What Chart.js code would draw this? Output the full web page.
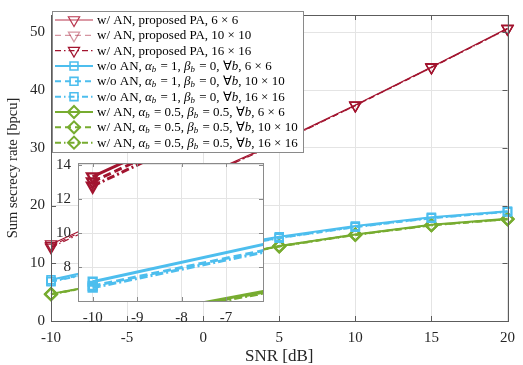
<!DOCTYPE html>
<html><head><meta charset="utf-8">
<script src="https://cdn.jsdelivr.net/npm/chart.js@4.4.0/dist/chart.umd.min.js"></script>
<style>
html,body{margin:0;padding:0;background:#fff;}
#wrap{position:relative;width:523px;height:365px;}
canvas{position:absolute;left:0;top:0;}
#inset{pointer-events:none;}
</style></head><body>
<div id="wrap"><canvas id="main" width="523" height="365"></canvas><canvas id="inset" width="523" height="365"></canvas></div>
<script>
// ---------------- data ----------------
const snr = [-10, -5, 0, 5, 10, 15, 20];
const anPA6   = [13.3, 19.3, 25.2, 31.1, 37.4, 44.0, 50.7];
const anPA10  = [13.0, 19.1, 25.0, 31.0, 37.3, 43.9, 50.6];
const anPA16  = [12.75, 18.9, 24.9, 30.9, 37.3, 43.9, 50.6];
const noAN6   = [7.15, 10.0, 12.4, 14.6, 16.45, 17.95, 19.0];
const noAN10  = [6.9, 9.6, 12.1, 14.4, 16.3, 17.85, 18.95];
const noAN16  = [6.8, 9.5, 12.0, 14.35, 16.25, 17.8, 18.9];
const anFix6  = [4.7, 7.15, 10.4, 13.0, 15.0, 16.65, 17.7];
const anFix10 = [4.65, 7.1, 10.35, 12.95, 14.95, 16.6, 17.65];
const anFix16 = [4.6, 7.05, 10.3, 12.9, 14.9, 16.55, 17.6];

const legendLabels = [
  'w/ AN, proposed PA, 6 × 6',
  'w/ AN, proposed PA, 10 × 10',
  'w/ AN, proposed PA, 16 × 16',
  'w/o AN, {α|b} = 1, {β|b} = 0, ∀{b}, 6 × 6',
  'w/o AN, {α|b} = 1, {β|b} = 0, ∀{b}, 10 × 10',
  'w/o AN, {α|b} = 1, {β|b} = 0, ∀{b}, 16 × 16',
  'w/ AN, {α|b} = 0.5, {β|b} = 0.5, ∀{b}, 6 × 6',
  'w/ AN, {α|b} = 0.5, {β|b} = 0.5, ∀{b}, 10 × 10',
  'w/ AN, {α|b} = 0.5, {β|b} = 0.5, ∀{b}, 16 × 16'
];
const xTitle = 'SNR [dB]';
const yTitle = 'Sum secrecy rate [bpcu]';
const mainXTicks = [-10, -5, 0, 5, 10, 15, 20];
const mainYTicks = [0, 10, 20, 30, 40, 50];
const insetXTicks = [-10, -9, -8, -7];
const insetYTicks = [8, 10, 12, 14];

// ---------------- styles ----------------
const RED = '#A2142F', BLUE = '#4DBEEE', GREEN = '#77AC30';
const FONT = '"Liberation Serif", "Times New Roman", serif';
const DASH = [6, 4], DASHDOT = [6, 3, 1.5, 3];
const IDASH = [8, 4], IDASHDOT = [8, 3, 2, 3];
const seriesData = [anPA6, anPA10, anPA16, noAN6, noAN10, noAN16, anFix6, anFix10, anFix16];
const styles = [
  {c: RED, lc: '#B8354D', d: [], id: [], m: 'triangle', rot: 180, r: 6.5, lw: 1.2, pw: 1.2},
  {c: RED, lc: 'rgba(162,20,47,0.45)', d: DASH, id: IDASH, m: 'triangle', rot: 180, r: 6.5, lw: 1.2, pw: 1.2},
  {c: RED, lc: RED, d: DASHDOT, id: IDASHDOT, m: 'triangle', rot: 180, r: 6.5, lw: 1.2, pw: 1.2},
  {c: BLUE, lc: BLUE, d: [], id: [], m: 'rect', rot: 0, r: 5.6, lw: 2, pw: 1.6},
  {c: BLUE, lc: BLUE, d: DASH, id: IDASH, m: 'rect', rot: 0, r: 5.6, lw: 2, pw: 1.6},
  {c: BLUE, lc: BLUE, d: DASHDOT, id: IDASHDOT, m: 'rect', rot: 0, r: 5.6, lw: 2, pw: 1.6},
  {c: GREEN, lc: GREEN, d: [], id: [], m: 'rectRot', rot: 0, r: 6, lw: 2, pw: 2},
  {c: GREEN, lc: GREEN, d: DASH, id: IDASH, m: 'rectRot', rot: 0, r: 6, lw: 2, pw: 2},
  {c: GREEN, lc: GREEN, d: DASHDOT, id: IDASHDOT, m: 'rectRot', rot: 0, r: 6, lw: 2, pw: 2}
];
const plain = s => s.replace(/\{([^|}]+)(?:\|([^}]+))?\}/g, (m, a, b) => a + (b || ''));

function makeDatasets(inset) {
  return seriesData.map((arr, i) => {
    const s = styles[i];
    return {
      label: plain(legendLabels[i]),
      data: snr.map((x, k) => ({x: x, y: arr[k]})),
      borderColor: s.c,
      backgroundColor: 'rgba(0,0,0,0)',
      borderWidth: inset ? 3 : s.lw,
      borderDash: inset ? s.id : s.d,
      pointStyle: s.m,
      pointRotation: s.rot,
      pointRadius: s.r,
      pointHoverRadius: s.r,
      pointBorderWidth: inset ? 2.4 : s.pw,
      pointBorderColor: s.c,
      pointBackgroundColor: 'rgba(0,0,0,0)',
      fill: false,
      tension: 0,
      clip: inset ? 0 : false
    };
  });
}

function tickList(arr) { return s => { s.ticks = arr.map(v => ({value: v})); }; }

function boxPlugin(color, len) {
  return {
    id: 'box',
    afterDatasetsDraw(chart) {
      const ctx = chart.ctx, a = chart.chartArea;
      const xs = chart.scales.x, ys = chart.scales.y;
      ctx.save();
      ctx.strokeStyle = color; ctx.lineWidth = 1;
      ctx.beginPath();
      xs.ticks.forEach(t => {
        const px = Math.round(xs.getPixelForValue(t.value)) + 0.5;
        ctx.moveTo(px, a.bottom); ctx.lineTo(px, a.bottom - len);
        ctx.moveTo(px, a.top); ctx.lineTo(px, a.top + len);
      });
      ys.ticks.forEach(t => {
        const py = Math.round(ys.getPixelForValue(t.value)) + 0.5;
        ctx.moveTo(a.left, py); ctx.lineTo(a.left + len, py);
        ctx.moveTo(a.right, py); ctx.lineTo(a.right - len, py);
      });
      ctx.stroke();
      ctx.strokeRect(Math.round(a.left) + 0.5, Math.round(a.top) + 0.5,
        Math.round(a.right - a.left), Math.round(a.bottom - a.top));
      ctx.restore();
    }
  };
}

function drawRich(ctx, str, x, y, size) {
  const re = /\{([^|}]+)(?:\|([^}]+))?\}/g;
  let last = 0, m; const parts = [];
  while ((m = re.exec(str))) {
    if (m.index > last) parts.push({t: str.slice(last, m.index)});
    parts.push({t: m[1], it: true, sub: m[2]});
    last = re.lastIndex;
  }
  if (last < str.length) parts.push({t: str.slice(last)});
  for (const p of parts) {
    ctx.font = (p.it ? 'italic ' : '') + size + 'px ' + FONT;
    ctx.fillText(p.t, x, y);
    x += ctx.measureText(p.t).width;
    if (p.sub) {
      ctx.font = 'italic ' + (size * 0.68) + 'px ' + FONT;
      ctx.fillText(p.sub, x, y + size * 0.25);
      x += ctx.measureText(p.sub).width + 1;
    }
  }
}

const legendPlugin = {
  id: 'richLegend',
  afterDraw(chart) {
    const ctx = chart.ctx;
    const bx = 52, by = 11, bw = 251, bh = 141, rowH = 15.33, y0 = 20;
    ctx.save();
    ctx.fillStyle = '#fff';
    ctx.fillRect(bx, by, bw, bh);
    ctx.strokeStyle = '#8a8a8a'; ctx.lineWidth = 1;
    ctx.strokeRect(bx + 0.5, by + 0.5, bw, bh);
    legendLabels.forEach((lab, i) => {
      const s = styles[i];
      const cy = y0 + i * rowH;
      ctx.strokeStyle = s.lc; ctx.lineWidth = s.lw;
      ctx.setLineDash(s.d);
      ctx.beginPath(); ctx.moveTo(55, cy); ctx.lineTo(93, cy); ctx.stroke();
      ctx.setLineDash([]);
      ctx.lineWidth = s.pw;
      ctx.fillStyle = 'rgba(0,0,0,0)';
      ctx.strokeStyle = s.lc;
      Chart.helpers.drawPoint(ctx, {pointStyle: s.m, rotation: s.rot, radius: s.r, borderWidth: s.pw}, 74, cy);
      ctx.fillStyle = '#000';
      ctx.textBaseline = 'middle';
      drawRich(ctx, lab, 97, cy + 0.5, 13);
    });
    ctx.restore();
  }
};

const tickFont = {family: FONT, size: 15};

new Chart(document.getElementById('main'), {
  type: 'line',
  data: {datasets: makeDatasets(false)},
  options: {
    responsive: false, animation: false, devicePixelRatio: 1,
    layout: {padding: {left: 0, right: 7, top: 8, bottom: 0}},
    plugins: {legend: {display: false}, tooltip: {enabled: false}},
    scales: {
      x: {
        type: 'linear', min: -10, max: 20,
        afterBuildTicks: tickList(mainXTicks),
        afterFit: s => { s.height = 44; },
        grid: {color: '#e4e4e4', drawTicks: false},
        border: {display: false},
        ticks: {color: '#262626', font: tickFont, padding: 8, maxRotation: 0, callback: v => String(v)},
        title: {display: true, text: xTitle, color: '#262626', font: {family: FONT, size: 17, lineHeight: 1}, padding: {top: 0, bottom: 0}}
      },
      y: {
        type: 'linear', min: 0, max: 53,
        afterBuildTicks: tickList(mainYTicks),
        afterFit: s => { s.width = 51; },
        grid: {color: '#e4e4e4', drawTicks: false},
        border: {display: false},
        ticks: {color: '#262626', font: tickFont, padding: 6, callback: v => String(v)},
        title: {display: true, text: yTitle, color: '#262626', font: {family: FONT, size: 14.5, lineHeight: 1}, padding: {top: 6, bottom: 0}}
      }
    }
  },
  plugins: [boxPlugin('#5c5c5c', 5), legendPlugin]
});

const insetBg = {
  id: 'insetBg',
  beforeDraw(chart) {
    const a = chart.chartArea, ctx = chart.ctx;
    ctx.save(); ctx.fillStyle = '#fff';
    ctx.fillRect(a.left, a.top, a.right - a.left, a.bottom - a.top);
    ctx.restore();
  }
};

new Chart(document.getElementById('inset'), {
  type: 'line',
  data: {datasets: makeDatasets(true)},
  options: {
    responsive: false, animation: false, devicePixelRatio: 1,
    layout: {padding: {left: 38, right: 260, top: 163, bottom: 34}},
    plugins: {legend: {display: false}, tooltip: {enabled: false}},
    scales: {
      x: {
        type: 'linear', min: -10.33, max: -6.17,
        afterBuildTicks: tickList(insetXTicks),
        afterFit: s => { s.height = 30; },
        grid: {color: '#e4e4e4', drawTicks: false},
        border: {display: false},
        ticks: {color: '#262626', font: tickFont, padding: 8, maxRotation: 0, callback: v => String(v)}
      },
      y: {
        type: 'linear', min: 6.02, max: 14.1,
        afterBuildTicks: tickList(insetYTicks),
        afterFit: s => { s.width = 40; },
        grid: {color: '#e4e4e4', drawTicks: false},
        border: {display: false},
        ticks: {color: '#262626', font: tickFont, padding: 7, callback: v => String(v)}
      }
    }
  },
  plugins: [insetBg, boxPlugin('#8a8a8a', 4)]
});
</script>
</body></html>
